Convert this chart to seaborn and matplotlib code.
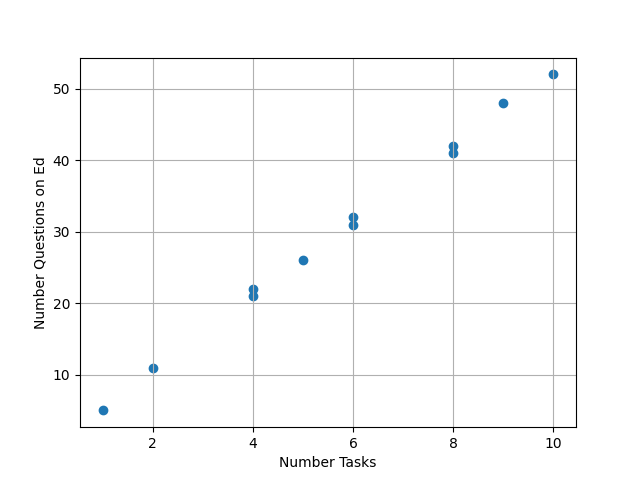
import matplotlib
matplotlib.use("Agg")
import matplotlib.pyplot as plt
import seaborn as sns

# values
num_tasks = [1, 2, 4, 4, 5, 6, 6, 8, 8, 9, 10]
num_questions = [5, 11, 21, 22, 26, 31, 32, 41, 42, 48, 52]

fig, ax = plt.subplots(figsize=(6.4, 4.8), dpi=100)
sns.scatterplot(x=num_tasks, y=num_questions, ax=ax, color="#1f77b4",
                s=36, edgecolor="#1f77b4", linewidth=1)
ax.set_xlabel("Number Tasks")
ax.set_ylabel("Number Questions on Ed")
ax.grid(True)

fig.savefig("out.png", dpi=100)
